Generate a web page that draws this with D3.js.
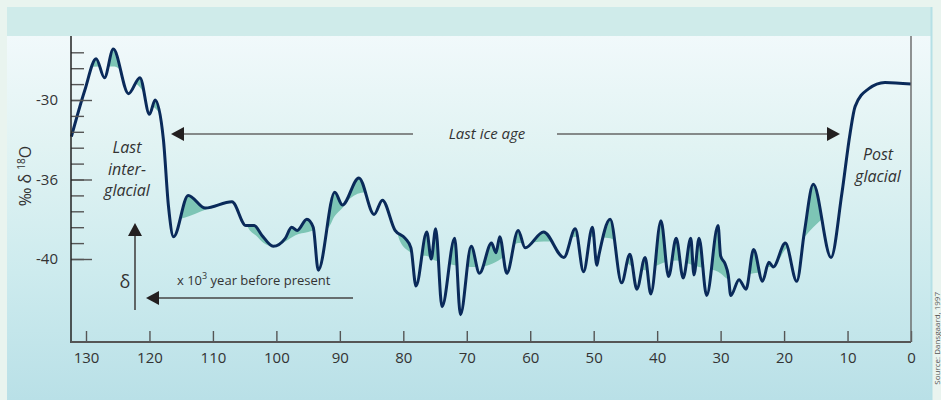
<!DOCTYPE html>
<html>
<head>
<meta charset="utf-8">
<script src="https://cdn.jsdelivr.net/npm/d3@7"></script>
<style>
body { margin:0; background:#e9f4ef; }
svg { display:block; font-family:"Open Sans", sans-serif; }
</style>
</head>
<body>
<svg id="chart" width="941" height="400"></svg>
<script>
// age in thousand years before present, delta 18O in per mil
var ages = [132.3,130.2,128.4,127.1,125.7,123.3,121.5,120.0,119.1,117.8,117.0,116.2,113.9,111.2,107.0,104.8,103.5,102.3,100.5,98.6,97.6,96.7,95.2,94.2,93.4,90.8,89.6,87.0,84.6,83.3,81.3,79.7,78.8,78.0,76.3,75.6,74.9,73.9,71.9,71.0,69.3,68.0,66.1,65.4,64.8,63.7,61.9,60.8,57.9,54.7,52.9,51.6,50.2,49.5,49.2,47.4,45.6,44.3,43.2,41.9,41.0,39.4,38.2,37.0,35.9,34.7,34.2,33.4,32.2,30.4,30.0,29.3,28.8,28.4,27.1,26.0,24.8,23.4,22.4,21.7,19.8,18.0,16.8,15.4,12.6,10.9,9.6,8.8,6.7,4.1,0];
var delta = [-32.3,-29.4,-27.4,-28.6,-26.8,-29.6,-28.6,-30.9,-30.0,-32.5,-36.7,-38.6,-36.0,-36.8,-36.4,-37.9,-37.9,-38.5,-39.2,-38.7,-38.0,-38.2,-37.5,-38.0,-40.7,-35.8,-36.6,-34.9,-37.2,-36.3,-38.2,-38.7,-39.3,-41.7,-38.3,-40.0,-38.1,-43.0,-38.7,-43.5,-39.2,-40.9,-39.0,-39.6,-38.6,-40.9,-38.2,-39.3,-38.3,-39.9,-38.1,-40.8,-38.0,-40.4,-39.8,-37.5,-41.5,-39.7,-41.9,-39.9,-42.2,-37.6,-41.1,-38.7,-41.2,-38.7,-41.0,-38.7,-42.3,-37.9,-39.8,-40.3,-41.0,-42.3,-41.3,-41.9,-39.4,-41.4,-40.2,-40.5,-39.0,-41.4,-38.3,-35.3,-39.9,-35.9,-32.1,-30.4,-29.3,-28.9,-29.0];

// smoothed background level, the shading sits between it and the curve
var trendAges = [132.4,127.8,125.5,123.3,121.5,119.8,118.9,117.6,116.6,115.8,114.5,111.2,108.5,107.0,105.5,104.5,103.0,102.0,100.5,98.6,97.0,95.0,94.2,92.0,90.8,89.6,88.4,86.0,84.6,83.3,81.5,80.5,78.8,78.0,76.5,75.0,73.0,71.9,69.3,68.0,66.0,65.0,63.7,61.9,60.8,57.9,54.7,52.9,50.2,47.4,45.6,44.3,43.0,41.9,40.5,39.4,37.0,35.0,33.4,32.2,30.4,28.5,27.1,24.8,23.4,22.4,21.7,19.8,17.8,15.4,13.5,12.6,11.5,10.5,9.5,8.5,6.7,0];
var trendDelta = [-28.0,-27.9,-27.9,-28.7,-29.2,-30.3,-30.6,-31.5,-34.0,-37.5,-37.4,-36.9,-36.5,-36.3,-37.0,-38.0,-38.6,-39.0,-39.2,-38.9,-38.5,-38.3,-38.2,-38.1,-37.3,-36.8,-36.2,-35.8,-35.9,-36.2,-37.5,-38.9,-39.6,-39.8,-39.8,-40.1,-40.3,-40.4,-40.5,-40.5,-40.3,-40.1,-39.7,-39.0,-39.0,-38.9,-38.9,-38.6,-38.6,-38.7,-39.5,-40.4,-40.6,-40.7,-40.5,-40.3,-40.1,-40.3,-40.5,-40.6,-40.8,-41.3,-41.1,-40.9,-40.8,-40.5,-40.5,-39.4,-39.0,-38.0,-37.3,-37.0,-35.0,-32.5,-29.5,-28.0,-27.5,-27.5];

var xTicks = [130,120,110,100,90,80,70,60,50,40,30,20,10,0];
var yTicks = [-27,-28,-29,-30,-31,-32,-33,-34,-35,-36,-37,-38,-39,-40];
var yLabelVals = [-30,-35,-40];
var yLabels = ["-30","-36","-40"];

var svg = d3.select("#chart");
var axisX0 = 71, axisX1 = 911, axisTop = 36, axisBottom = 342;

var x = d3.scaleLinear().domain([130,0]).range([86,911]);
var y = d3.scaleLinear().domain([-30,-40]).range([100,259]);

var data = ages.map(function(a,i){ return {age:a, v:delta[i]}; });
var trend = trendAges.map(function(a,i){ return {age:a, v:trendDelta[i]}; });

// background
var defs = svg.append("defs");
var grad = defs.append("linearGradient").attr("id","bg").attr("x1",0).attr("y1",0).attr("x2",0).attr("y2",1);
grad.append("stop").attr("offset","0%").attr("stop-color","#f1f9fb");
grad.append("stop").attr("offset","30%").attr("stop-color","#e1f3f3");
grad.append("stop").attr("offset","65%").attr("stop-color","#cdebee");
grad.append("stop").attr("offset","100%").attr("stop-color","#b9e0e7");

svg.append("rect").attr("x",0).attr("y",0).attr("width",941).attr("height",400).style("fill","#e9f4ef");
svg.append("rect").attr("x",7).attr("y",36).attr("width",924).attr("height",364).style("fill","url(#bg)");
svg.append("rect").attr("x",7).attr("y",7).attr("width",924).attr("height",29).style("fill","#cfebea");
svg.append("line").attr("x1",931.5).attr("x2",931.5).attr("y1",7).attr("y2",400).style("stroke","#b5e0e6").style("stroke-width",2);

// shading: below the curve and above the trend
defs.append("clipPath").attr("id","aboveTrend").append("path")
    .attr("d", d3.area().x(function(d){return x(d.age);}).y0(0).y1(function(d){return y(d.v);}).curve(d3.curveMonotoneX)(trend));

svg.append("path")
    .attr("d", d3.area().x(function(d){return x(d.age);}).y0(axisBottom).y1(function(d){return y(d.v);}).curve(d3.curveMonotoneX)(data))
    .attr("clip-path","url(#aboveTrend)")
    .style("fill","#7dc5b5");

svg.append("path")
    .attr("d", d3.line().x(function(d){return x(d.age);}).y(function(d){return y(d.v);}).curve(d3.curveMonotoneX)(data))
    .style("fill","none").style("stroke","#0a2a5a").style("stroke-width",3).style("stroke-linejoin","round");

// axes
var gyMinor = svg.append("g").attr("transform","translate("+axisX0+",0)")
    .call(d3.axisRight(y).tickValues(yTicks).tickSize(13).tickFormat(""));
var gyMajor = svg.append("g").attr("transform","translate("+axisX0+",0)")
    .call(d3.axisRight(y).tickValues(yLabelVals).tickSize(21).tickFormat(""));
var gyLab = svg.append("g").attr("transform","translate("+axisX0+",0)")
    .call(d3.axisLeft(y).tickValues(yLabelVals).tickSize(0).tickPadding(13).tickFormat(function(d,i){ return yLabels[i]; }));
var gx = svg.append("g").attr("transform","translate(0,"+axisBottom+")")
    .call(d3.axisBottom(x).tickValues(xTicks).tickSize(-11).tickPadding(10).tickFormat(d3.format("d")));

[gyMinor,gyMajor,gyLab,gx].forEach(function(g){
  g.select(".domain").remove();
  g.selectAll("line").style("stroke","#555").style("stroke-width",1.4);
  g.selectAll("text").style("font-family","Open Sans").style("font-size","15px").style("fill","#333");
});

svg.append("line").attr("x1",axisX0).attr("x2",axisX0).attr("y1",axisTop).attr("y2",axisBottom+1).style("stroke","#222").style("stroke-width",1.5);
svg.append("line").attr("x1",axisX0).attr("x2",axisX1).attr("y1",axisBottom).attr("y2",axisBottom).style("stroke","#555").style("stroke-width",1.8);
svg.append("line").attr("x1",axisX1).attr("x2",axisX1).attr("y1",axisTop).attr("y2",axisBottom).style("stroke","#666").style("stroke-width",1.4);

// y label
var yl = svg.append("text").attr("transform","translate(31,176) rotate(-90)").attr("text-anchor","middle")
    .style("font-size","16px").style("fill","#333");
yl.append("tspan").text("\u2030 \u03b4 ");
yl.append("tspan").attr("dy",-6).style("font-size","10px").text("18");
yl.append("tspan").attr("dy",6).text("O");

// arrows
function arrowHead(tx, ty, dir){
  var p;
  if(dir=="left") p = [[tx,ty],[tx+13,ty-7],[tx+13,ty+7]];
  else if(dir=="right") p = [[tx,ty],[tx-13,ty-7],[tx-13,ty+7]];
  else p = [[tx,ty],[tx-7,ty+13],[tx+7,ty+13]];
  svg.append("path").attr("d","M"+p.join("L")+"Z").style("fill","#231f20");
}
svg.append("line").attr("x1",180).attr("x2",413).attr("y1",134).attr("y2",134).style("stroke","#666").style("stroke-width",1.6);
svg.append("line").attr("x1",557).attr("x2",830).attr("y1",134).attr("y2",134).style("stroke","#666").style("stroke-width",1.6);
arrowHead(171,134,"left");
arrowHead(840,134,"right");
svg.append("text").attr("x",487).attr("y",139).attr("text-anchor","middle").text("Last ice age")
    .style("font-size","15px").style("font-style","italic").style("fill","#333");

svg.append("line").attr("x1",135).attr("x2",135).attr("y1",232).attr("y2",310).style("stroke","#444").style("stroke-width",1.6);
arrowHead(135,223,"up");
svg.append("line").attr("x1",155).attr("x2",353).attr("y1",298).attr("y2",298).style("stroke","#444").style("stroke-width",1.6);
arrowHead(146,298,"left");

svg.append("text").attr("x",125).attr("y",288).attr("text-anchor","middle").text("\u03b4")
    .style("font-size","18px").style("fill","#333");
var xl = svg.append("text").attr("x",177).attr("y",285).style("font-size","13px").style("fill","#333");
xl.append("tspan").text("x 10");
xl.append("tspan").attr("dy",-6).style("font-size","9px").text("3");
xl.append("tspan").attr("dy",6).text(" year before present");

// period labels
[["Last",153],["inter-",175],["glacial",196]].forEach(function(t){
  svg.append("text").attr("x",127).attr("y",t[1]).attr("text-anchor","middle").text(t[0])
     .style("font-size","16px").style("font-style","italic").style("fill","#333");
});
[["Post",160],["glacial",182]].forEach(function(t){
  svg.append("text").attr("x",878).attr("y",t[1]).attr("text-anchor","middle").text(t[0])
     .style("font-size","16px").style("font-style","italic").style("fill","#333");
});

svg.append("text").attr("transform","translate(940,292) rotate(-90)").attr("text-anchor","end")
    .text("Source: Dansgaard, 1997").style("font-size","8px").style("fill","#555");
</script>
</body>
</html>
